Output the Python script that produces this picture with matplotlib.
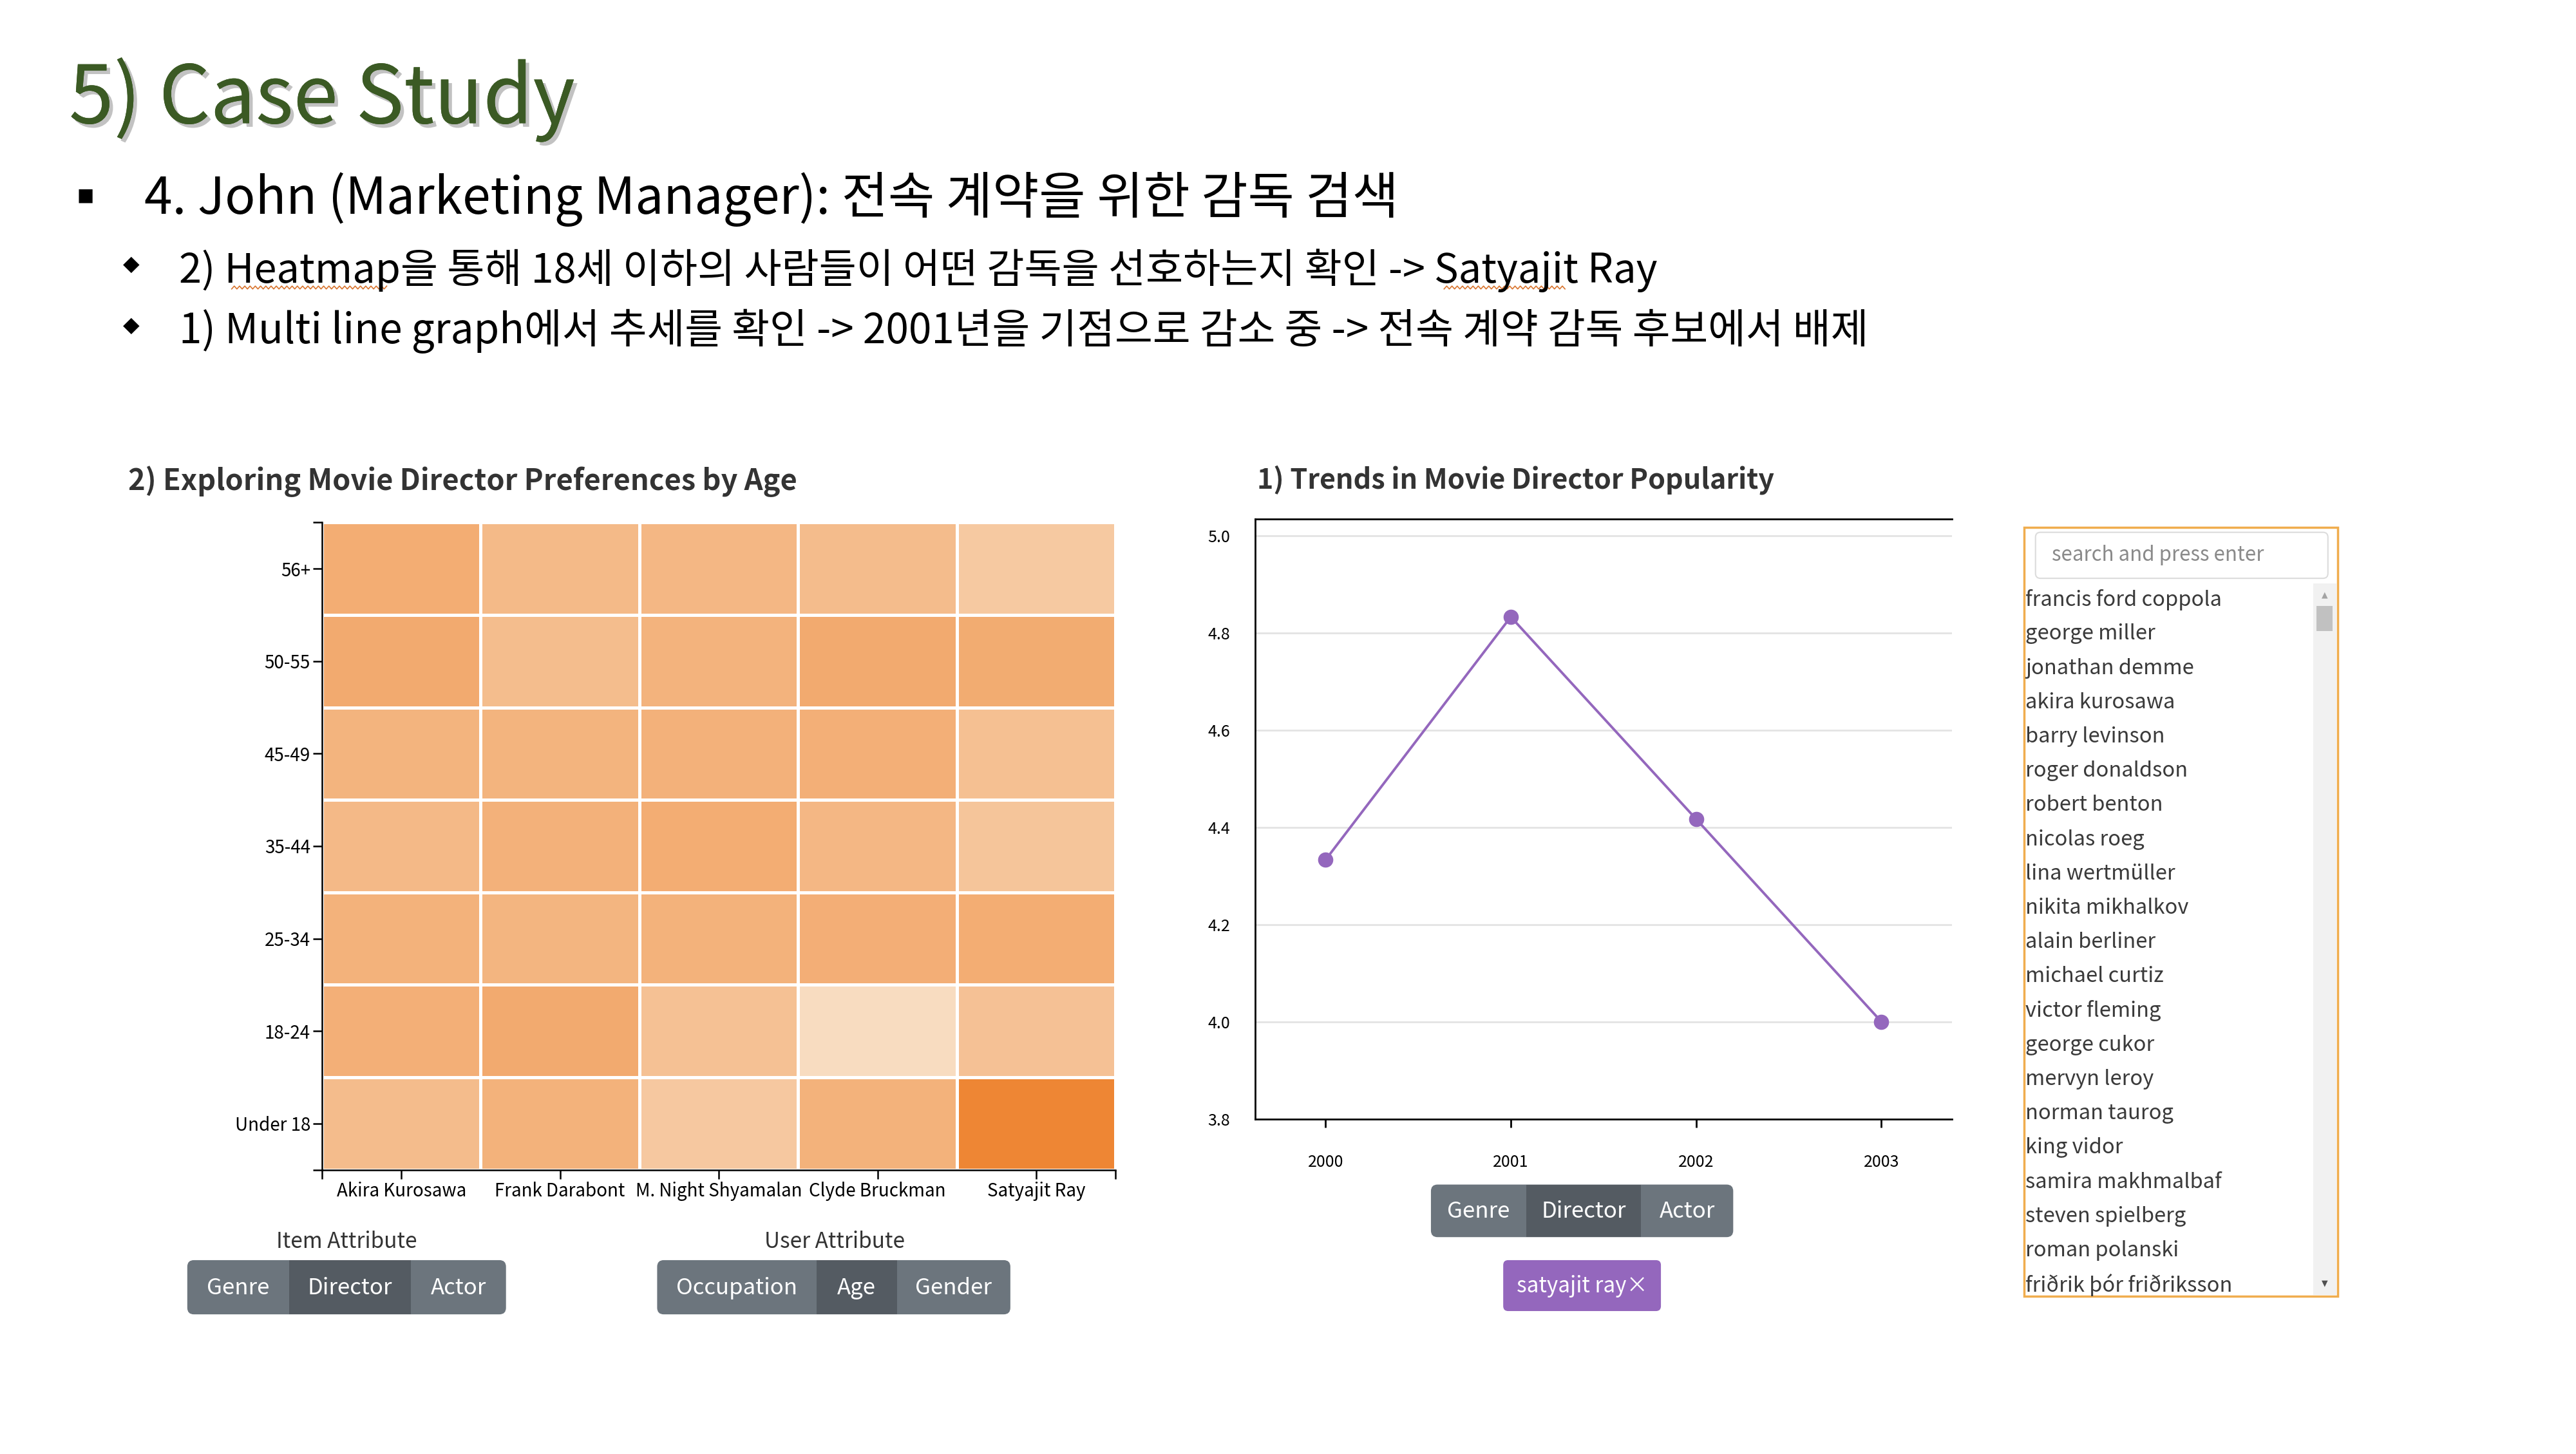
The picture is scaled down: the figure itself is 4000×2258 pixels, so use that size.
"""Case study slide: director preference heatmap + popularity trend."""
import matplotlib.pyplot as plt
import matplotlib.patheffects as pe
import numpy as np
from matplotlib.colors import LinearSegmentedColormap
from matplotlib.patches import FancyBboxPatch, Rectangle

plt.rcParams["font.family"] = ["Noto Sans CJK KR", "DejaVu Sans"]

# ---- data -------------------------------------------------------------
directors = ["Akira Kurosawa", "Frank Darabont", "M. Night Shyamalan",
             "Clyde Bruckman", "Satyajit Ray"]
age_groups = ["Under 18", "18-24", "25-34", "35-44", "45-49", "50-55", "56+"]
# preference score per age group (rows, bottom -> top) and director (cols)
preference = [
    [0.37, 0.49, 0.23, 0.49, 1.00],   # Under 18
    [0.52, 0.58, 0.32, 0.00, 0.31],   # 18-24
    [0.49, 0.46, 0.49, 0.53, 0.55],   # 25-34
    [0.41, 0.50, 0.55, 0.43, 0.27],   # 35-44
    [0.47, 0.47, 0.50, 0.52, 0.33],   # 45-49
    [0.58, 0.36, 0.48, 0.58, 0.56],   # 50-55
    [0.55, 0.40, 0.43, 0.37, 0.22],   # 56+
]

years = [2000, 2001, 2002, 2003]
ray_rating = [4.333, 4.833, 4.417, 4.0]

item_attrs = ["Genre", "Director", "Actor"]
user_attrs = ["Occupation", "Age", "Gender"]
trend_attrs = ["Genre", "Director", "Actor"]
selected_tag = "satyajit ray×"

director_list = [
    "francis ford coppola", "george miller", "jonathan demme", "akira kurosawa",
    "barry levinson", "roger donaldson", "robert benton", "nicolas roeg",
    "lina wertmüller", "nikita mikhalkov", "alain berliner", "michael curtiz",
    "victor fleming", "george cukor", "mervyn leroy", "norman taurog",
    "king vidor", "samira makhmalbaf", "steven spielberg", "roman polanski",
    "friðrik þór friðriksson",
]

# ---- layout grid (reference pixels) -----------------------------------
W, H = 1568, 885
BTN = "#6c757d"
BTN_ACTIVE = "#545b62"
PURPLE = "#9467bd"
TXT = "#333333"


def fx(px):
    return px / W


def fy(py):
    return 1 - py / H


def button_group(ax, edges, top, bottom, labels, active, size=25):
    box = FancyBboxPatch((edges[0], top), edges[-1] - edges[0], bottom - top,
                         boxstyle="round,pad=0,rounding_size=4",
                         fc=BTN, ec="none")
    ax.add_patch(box)
    for i, lab in enumerate(labels):
        if i == active:
            ax.add_patch(Rectangle((edges[i], top), edges[i + 1] - edges[i],
                                   bottom - top, fc=BTN_ACTIVE, ec="none"))
        ax.text((edges[i] + edges[i + 1]) / 2, (top + bottom) / 2 + 0.5, lab,
                color="white", fontsize=size, ha="center", va="center")


def wavy(ax, x0, x1, y):
    xs = np.arange(x0, x1, 1.6)
    ys = y + 0.9 * (-1) ** np.arange(len(xs))
    ax.plot(xs, ys, color="#d9752f", lw=1.2)


fig = plt.figure(figsize=(40, 22.58), dpi=100)
fig.patch.set_facecolor("white")

bg = fig.add_axes([0, 0, 1, 1])
bg.set_xlim(0, W)
bg.set_ylim(H, 0)
bg.axis("off")

# ---- slide text --------------------------------------------------------
bg.text(42, 75, "5) Case Study", fontsize=90, color="#3b5a24",
        path_effects=[pe.withSimplePatchShadow(offset=(4, -4), shadow_rgbFace="#9a9a9a", alpha=0.6),
                      pe.Normal()])
bg.text(52, 119, "■", fontsize=20, color="black", ha="center", va="center",
        family=["DejaVu Sans"])
bg.text(88, 130, "4. John (Marketing Manager): 전속 계약을 위한 감독 검색",
        fontsize=56.5, color="black")
bg.text(80, 161, "◆", fontsize=24, color="black", ha="center", va="center",
        family=["DejaVu Sans"])
bg.text(109, 172, "2) Heatmap을 통해 18세 이하의 사람들이 어떤 감독을 선호하는지 확인 -> Satyajit Ray",
        fontsize=45.5, color="black")
bg.text(80, 198, "◆", fontsize=24, color="black", ha="center", va="center",
        family=["DejaVu Sans"])
bg.text(109, 209, "1) Multi line graph에서 추세를 확인 -> 2001년을 기점으로 감소 중 -> 전속 계약 감독 후보에서 배제",
        fontsize=46, color="black")
wavy(bg, 141, 236, 175)
wavy(bg, 879, 953, 175)

# ---- heatmap -----------------------------------------------------------
bg.text(78, 293, "2) Exploring Movie Director Preferences by Age", fontsize=32.5,
        fontweight="bold", color=TXT, va="center")

cmap = LinearSegmentedColormap.from_list("peach", ["#f8dcc0", "#ee8634"])
axh = fig.add_axes([fx(196), fy(712), (679 - 196) / W, (712 - 318) / H])
axh.pcolormesh(np.arange(len(directors) + 1), np.arange(len(age_groups) + 1),
               np.array(preference), cmap=cmap, vmin=0, vmax=1,
               edgecolors="white", linewidth=2.2)
axh.set_xlim(0, len(directors))
axh.set_ylim(0, len(age_groups))
axh.set_xticks(np.arange(len(directors)) + 0.5)
axh.set_xticklabels(directors, fontsize=20, color="black")
axh.set_yticks(np.arange(len(age_groups)) + 0.5)
axh.set_yticklabels(age_groups, fontsize=20, color="black")
axh.set_xticks([0, len(directors)], minor=True)
axh.set_yticks([0, len(age_groups)], minor=True)
for side in ["top", "right"]:
    axh.spines[side].set_visible(False)
for side in ["left", "bottom"]:
    axh.spines[side].set_linewidth(1.8)
axh.tick_params(which="both", length=10, width=1.8, pad=3)

bg.text(211, 756, "Item Attribute", fontsize=24, color=TXT, ha="center", va="center")
bg.text(508, 756, "User Attribute", fontsize=24, color=TXT, ha="center", va="center")
button_group(bg, [114, 176, 250, 308], 767, 800, item_attrs, 1)
button_group(bg, [400, 497, 546, 615], 767, 800, user_attrs, 1)

# ---- trend line --------------------------------------------------------
bg.text(765, 292, "1) Trends in Movie Director Popularity", fontsize=31,
        fontweight="bold", color=TXT, va="center")

axl = fig.add_axes([fx(764), fy(681), (1188 - 764) / W, (681 - 316) / H])
axl.plot(years, ray_rating, color=PURPLE, lw=2.8, marker="o", ms=16, zorder=3)
axl.set_xlim(1999.62, 2003.38)
axl.set_ylim(3.8, 5.034)
axl.set_yticks(np.arange(3.8, 5.01, 0.2))
axl.set_yticklabels([f"{v:.1f}" for v in np.arange(3.8, 5.01, 0.2)])
axl.set_xticks(years)
axl.grid(axis="y", color="#e3e3e3", lw=2)
axl.set_axisbelow(True)
axl.spines["right"].set_visible(False)
for side in ["left", "bottom", "top"]:
    axl.spines[side].set_linewidth(2)
axl.tick_params(axis="y", length=0, pad=28, labelsize=18)
axl.tick_params(axis="x", length=9, width=2, pad=30, labelsize=18)

button_group(bg, [871, 929, 999, 1055], 721, 753, trend_attrs, 1)
bg.add_patch(FancyBboxPatch((915, 767), 96, 31, boxstyle="round,pad=0,rounding_size=3",
                            fc=PURPLE, ec="none"))
bg.text(963, 783, selected_tag, fontsize=24, color="white", ha="center", va="center")

# ---- search list -------------------------------------------------------
bg.add_patch(Rectangle((1232, 321), 191, 468, fc="white", ec="#f0ad4e", lw=2.5))
bg.add_patch(FancyBboxPatch((1239, 324), 178, 28, boxstyle="round,pad=0,rounding_size=3",
                            fc="white", ec="#dcdcdc", lw=1.5))
bg.text(1249, 338, "search and press enter", fontsize=22.5, color="#8a8a8a", va="center")
bg.add_patch(Rectangle((1408, 355), 14, 433, fc="#f1f1f1", ec="none"))
bg.add_patch(Rectangle((1410, 369), 10, 15, fc="#c1c1c1", ec="none"))
bg.text(1415, 362, "▲", fontsize=9, color="#a3a3a3", ha="center", va="center",
        family=["DejaVu Sans"])
bg.text(1415, 781, "▼", fontsize=9, color="#505050", ha="center", va="center",
        family=["DejaVu Sans"])
for i, name in enumerate(director_list):
    bg.text(1233, 365 + i * 20.85, name, fontsize=23.5, color="#3a3a3a", va="center")

fig.savefig("out.png", dpi=100, facecolor="white")
